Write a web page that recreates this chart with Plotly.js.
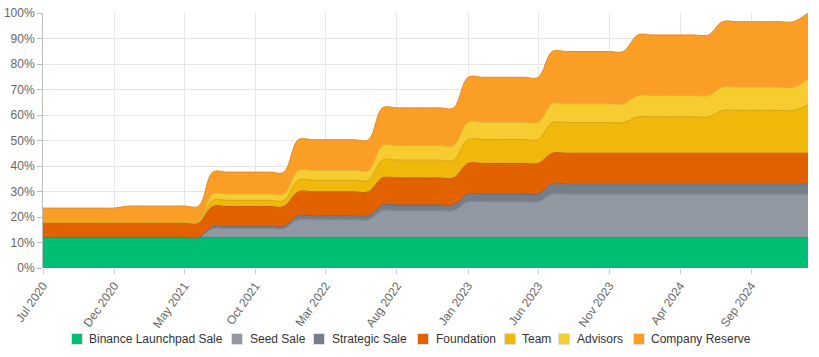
<!DOCTYPE html>
<html>
<head>
<meta charset="utf-8">
<script src="https://cdn.plot.ly/plotly-3.0.1.min.js"></script>
<style>
  html, body { margin: 0; padding: 0; background: #ffffff; }
  #chart { width: 819px; height: 357px; }
</style>
</head>
<body>
<div id="chart"></div>
<script>
// Monthly points, Jul 2020 .. Jan 2025 (cumulative % of total supply unlocked)
const months = [
  '2020-07','2020-08','2020-09','2020-10','2020-11','2020-12',
  '2021-01','2021-02','2021-03','2021-04','2021-05','2021-06',
  '2021-07','2021-08','2021-09','2021-10','2021-11','2021-12',
  '2022-01','2022-02','2022-03','2022-04','2022-05','2022-06',
  '2022-07','2022-08','2022-09','2022-10','2022-11','2022-12',
  '2023-01','2023-02','2023-03','2023-04','2023-05','2023-06',
  '2023-07','2023-08','2023-09','2023-10','2023-11','2023-12',
  '2024-01','2024-02','2024-03','2024-04','2024-05','2024-06',
  '2024-07','2024-08','2024-09','2024-10','2024-11','2024-12',
  '2025-01'
];

const seriesNames = ['Binance Launchpad Sale','Seed Sale','Strategic Sale','Foundation','Team','Advisors','Company Reserve'];

const launchpadSale = [
  12,12,12,12,12,12, 12,12,12,12,12,12, 12,12,12,12,12,12, 12,12,12,12,12,12,
  12,12,12,12,12,12, 12,12,12,12,12,12, 12,12,12,12,12,12, 12,12,12,12,12,12,
  12,12,12,12,12,12, 12
];
const seedSale = [
  0,0,0,0,0,0, 0,0,0,0,0,0, 3.5,3.5,3.5,3.5,3.5,3.5, 7,7,7,7,7,7,
  10.5,10.5,10.5,10.5,10.5,10.5, 14,14,14,14,14,14, 17,17,17,17,17,17, 17,17,17,17,17,17,
  17,17,17,17,17,17, 17
];
const strategicSale = [
  0,0,0,0,0,0, 0,0,0,0,0,0, 0.8,0.8,0.8,0.8,0.8,0.8, 1.5,1.5,1.5,1.5,1.5,1.5,
  2.2,2.2,2.2,2.2,2.2,2.2, 3,3,3,3,3,3, 4,4,4,4,4,4, 4,4,4,4,4,4,
  4,4,4,4,4,4, 4
];
const foundation = [
  6,6,6,6,6,6, 6,6,6,6,6,6, 7.8,7.8,7.8,7.8,7.8,7.8, 9.4,9.4,9.4,9.4,9.4,9.4,
  10.6,10.6,10.6,10.6,10.6,10.6, 12,12,12,12,12,12, 12,12,12,12,12,12, 12,12,12,12,12,12,
  12,12,12,12,12,12, 12
];
const team = [
  0,0,0,0,0,0, 0,0,0,0,0,0, 2.4,2.4,2.4,2.4,2.4,2.4, 4.5,4.5,4.5,4.5,4.5,4.5,
  7,7,7,7,7,7, 9.4,9.4,9.4,9.4,9.4,9.4, 12,12,12,12,12,12, 14.3,14.3,14.3,14.3,14.3,14.3,
  16.8,16.8,16.8,16.8,16.8,16.8, 19
];
const advisors = [
  0,0,0,0,0,0, 0,0,0,0,0,0, 2.5,2.5,2.5,2.5,2.5,2.5, 3.9,3.9,3.9,3.9,3.9,3.9,
  5.7,5.7,5.7,5.7,5.7,5.7, 6.8,6.8,6.8,6.8,6.8,6.8, 7.4,7.4,7.4,7.4,7.4,7.4, 8.3,8.3,8.3,8.3,8.3,8.3,
  9.1,9.1,9.1,9.1,9.1,9.1, 10
];
const companyReserve = [
  5.5,5.5,5.5,5.5,5.5,5.5, 6.3,6.3,6.3,6.3,6.3,6.3, 8.6,8.6,8.6,8.6,8.6,8.6, 12,12,12,12,12,12,
  14.8,14.8,14.8,14.8,14.8,14.8, 17.6,17.6,17.6,17.6,17.6,17.6, 20.5,20.5,20.5,20.5,20.5,20.5, 23.8,23.8,23.8,23.8,23.8,23.8,
  25.7,25.7,25.7,25.7,25.7,25.7, 26
];

const fillColors = ['#00bf73','#9198a1','#767e8c','#e36200','#efb80b','#f6cc30','#fb9e25'];
const lineColors = ['#0d9e62','#7d848e','#636a77','#c45606','#d5a40c','#ddb52a','#e58b22'];

const allValues = [launchpadSale, seedSale, strategicSale, foundation, team, advisors, companyReserve];

const traces = allValues.map((vals, i) => ({
  type: 'scatter',
  mode: 'lines',
  name: seriesNames[i],
  x: months,
  y: vals,
  stackgroup: 'one',
  fillcolor: fillColors[i],
  line: { shape: 'spline', smoothing: 1, width: 1, color: lineColors[i] },
  hoverinfo: 'x+y+name',
  showlegend: false
}));

// Custom legend (small squares + labels), laid out in pixels below the plot
const plotLeft = 43, plotWidth = 765, plotBottom = 268, plotHeight = 255;
const legendY = 339;
const legendSquareX = [77, 237, 319, 423, 510, 564, 639];   // centre of each square (px)
const legendTextX   = [87, 248, 330, 434, 520, 575, 649];   // left edge of each label (px)
const toPaperX = px => (px - plotLeft) / plotWidth;
const toPaperY = py => (plotBottom - py) / plotHeight;

const shapes = [];
const annotations = [];
seriesNames.forEach((name, i) => {
  shapes.push({
    type: 'rect', xref: 'paper', yref: 'paper',
    xsizemode: 'pixel', ysizemode: 'pixel',
    xanchor: toPaperX(legendSquareX[i]), yanchor: toPaperY(legendY),
    x0: -5.5, x1: 5.5, y0: -5.5, y1: 5.5,
    fillcolor: fillColors[i],
    line: { color: '#e0e0e0', width: 1 }
  });
  annotations.push({
    xref: 'paper', yref: 'paper',
    x: toPaperX(legendTextX[i]), y: toPaperY(legendY),
    xanchor: 'left', yanchor: 'middle',
    text: name, showarrow: false,
    font: { size: 12, color: '#333333', family: 'Liberation Sans, Arial, sans-serif' }
  });
});

const layout = {
  width: 819,
  height: 357,
  margin: { l: 43, r: 11, t: 13, b: 89 },
  paper_bgcolor: '#ffffff',
  plot_bgcolor: '#ffffff',
  font: { family: 'Liberation Sans, Arial, sans-serif', size: 12, color: '#666666' },
  showlegend: false,
  shapes: shapes,
  annotations: annotations,
  xaxis: {
    type: 'date',
    automargin: false,
    range: ['2020-07-01', '2025-01-01'],
    tick0: '2020-07-01',
    dtick: 'M5',
    tickformat: '%b %Y',
    tickangle: -55,
    showgrid: true,
    gridcolor: '#e6e6e6',
    ticks: 'outside',
    ticklen: 5,
    tickcolor: '#cccccc',
    showline: false,
    zeroline: false,
    tickfont: { size: 12, color: '#666666' }
  },
  yaxis: {
    automargin: false,
    range: [0, 100],
    dtick: 10,
    ticksuffix: '%',
    showgrid: true,
    gridcolor: '#e6e6e6',
    showline: true,
    linecolor: '#bbbbbb',
    ticks: 'outside',
    ticklen: 5,
    tickcolor: '#bbbbbb',
    zeroline: false,
    tickfont: { size: 12, color: '#666666' }
  }
};

Plotly.newPlot('chart', traces, layout, { displayModeBar: false, staticPlot: true });
</script>
</body>
</html>
